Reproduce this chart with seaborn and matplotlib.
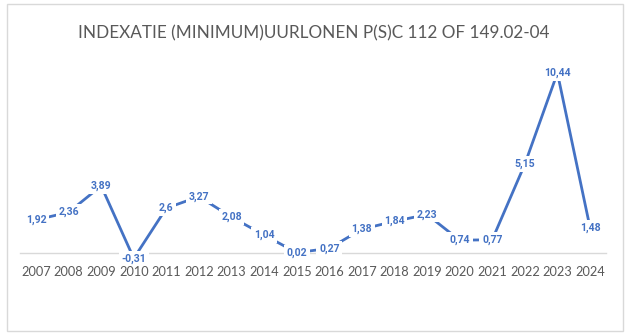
import matplotlib
matplotlib.use("Agg")
import matplotlib.pyplot as plt
import seaborn as sns
import pandas as pd
from matplotlib.patches import Rectangle

years = ["2007", "2008", "2009", "2010", "2011", "2012", "2013", "2014", "2015",
         "2016", "2017", "2018", "2019", "2020", "2021", "2022", "2023", "2024"]
values = [1.92, 2.36, 3.89, -0.31, 2.6, 3.27, 2.08, 1.04, 0.02,
          0.27, 1.38, 1.84, 2.23, 0.74, 0.77, 5.15, 10.44, 1.48]
labels = ["1,92", "2,36", "3,89", "-0,31", "2,6", "3,27", "2,08", "1,04", "0,02",
          "0,27", "1,38", "1,84", "2,23", "0,74", "0,77", "5,15", "10,44", "1,48"]
title = "INDEXATIE (MINIMUM)UURLONEN P(S)C 112 OF 149.02-04"

df = pd.DataFrame({"jaar": years, "index": values, "pos": range(len(years))})

sns.set_theme(style="white")
plt.rcParams["font.family"] = ["Lato", "DejaVu Sans"]

W, H = 626, 336
fig = plt.figure(figsize=(W / 100, H / 100), dpi=100)

# chart border
fig.patches.append(Rectangle((7 / W, 1 - 331 / H), (623 - 7) / W, (331 - 4) / H,
                             transform=fig.transFigure, fill=False,
                             edgecolor="#d9d9d9", linewidth=1.0))

ax = fig.add_axes([19.7 / W, 1 - 287.5 / H, (606.3 - 19.7) / W, (287.5 - 46) / H])
blue = "#4472C4"
sns.lineplot(data=df, x="pos", y="index", ax=ax, color=blue, linewidth=2.0,
             legend=False)
ax.set_xlim(-0.5, len(years) - 0.5)
ax.set_ylim(-2, 12)
for s in ["top", "right", "left"]:
    ax.spines[s].set_visible(False)
ax.spines["bottom"].set_position(("data", 0))
ax.spines["bottom"].set_color("#d9d9d9")
ax.spines["bottom"].set_linewidth(1.0)
ax.set_yticks([])
ax.set_xticks(range(len(years)))
ax.set_xticklabels(years, fontsize=9.2, color="#595959")
ax.tick_params(axis="x", length=0, pad=9)
ax.set_xlabel("")
ax.set_ylabel("")
ax.patch.set_alpha(0)

for i, (v, lab) in enumerate(zip(values, labels)):
    ax.text(i, v, lab, ha="center", va="center", fontsize=7.6, fontweight="bold",
            family=["Roboto", "DejaVu Sans"],
            color=blue, zorder=5,
            bbox=dict(boxstyle="square,pad=0.25", facecolor="white", edgecolor="none"))

fig.text(314 / W, 1 - 33 / H, title, ha="center", va="center", fontsize=12.3,
         color="#595959")

fig.savefig("out.png", dpi=100, facecolor="white")
